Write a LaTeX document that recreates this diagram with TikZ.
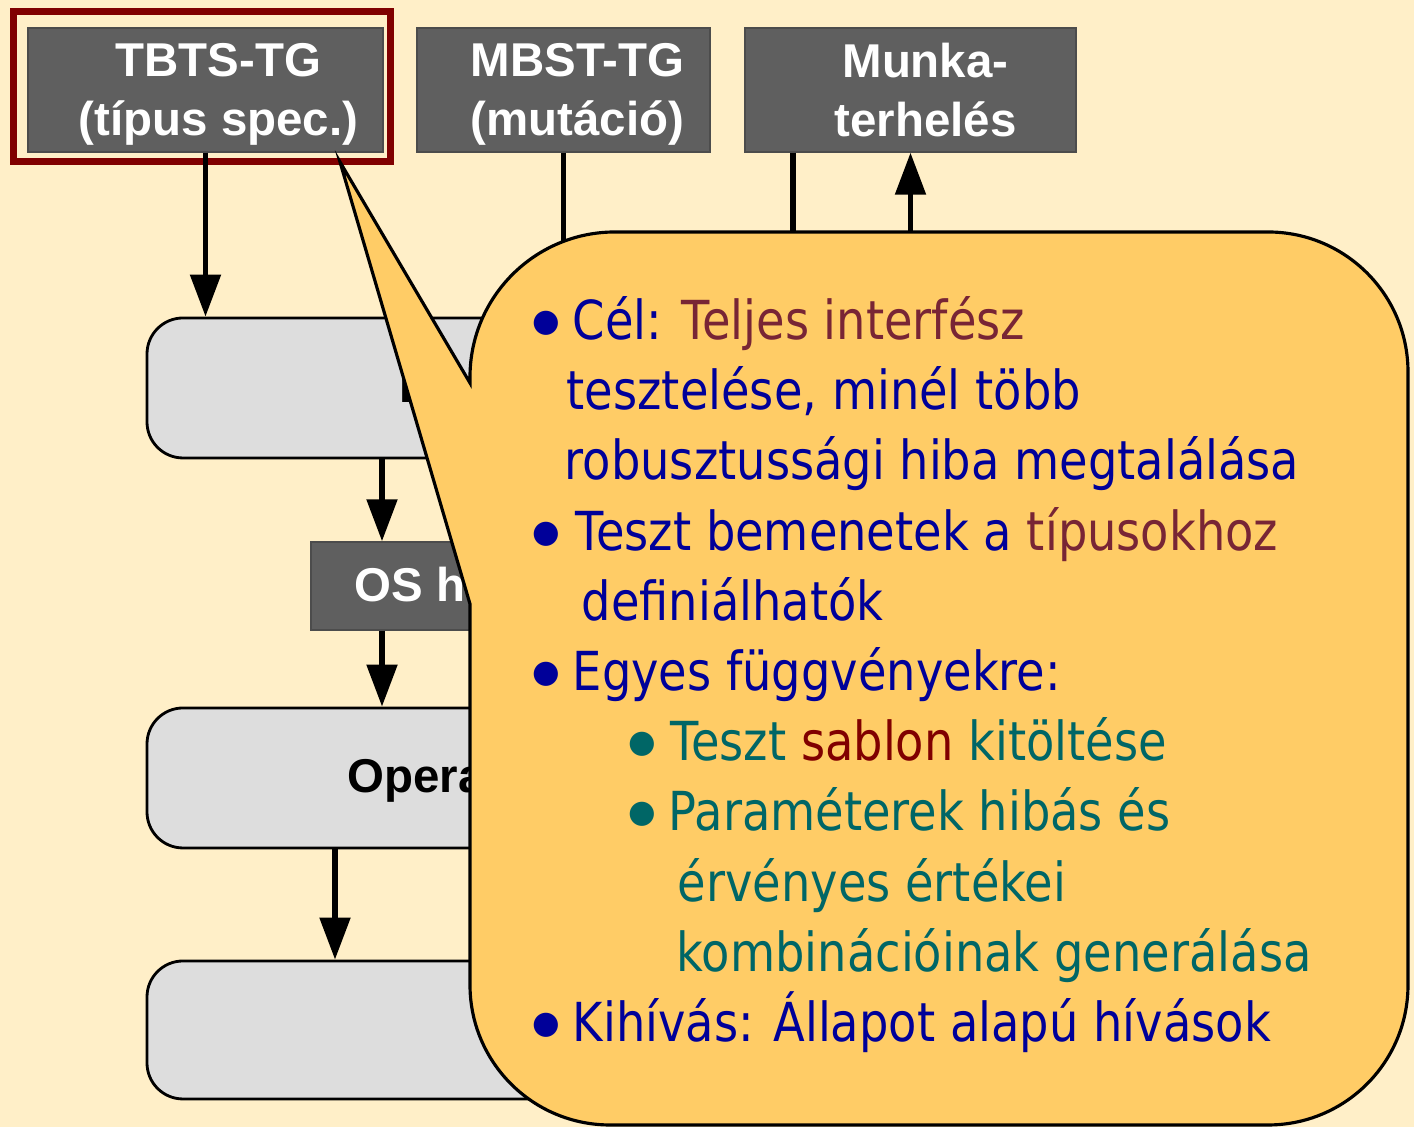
\documentclass[tikz,border=0pt]{standalone}
\usepackage{fontspec}
\setmainfont{Liberation Sans}
\newfontfamily\bubblefont{DejaVu Sans}[FakeStretch=0.862]
\newfontfamily\dotfont{DejaVu Sans}
\usetikzlibrary{arrows.meta}

\definecolor{cream}{HTML}{FFEFC8}
\definecolor{genfill}{HTML}{5F5F5F}
\definecolor{layerfill}{HTML}{DDDDDD}
\definecolor{framered}{HTML}{800000}
\definecolor{bubblefill}{HTML}{FFCC66}
\definecolor{navytext}{HTML}{000099}
\definecolor{rust}{HTML}{782535}
\definecolor{tealtext}{HTML}{006666}
\definecolor{sablonred}{HTML}{800000}

\begin{document}
\begin{tikzpicture}[
    genbox/.style={rectangle,draw=black!70,fill=genfill,inner sep=0pt,minimum height=1.24cm},
    layerbox/.style={rectangle,draw,line width=0.8pt,rounded corners=0.36cm,fill=layerfill,inner sep=0pt,minimum width=4.7cm,minimum height=1.4cm},
    genlabel/.style={text=white,align=center,font=\bfseries\fontsize{13.5pt}{16.6pt}\selectfont},
    layerlabel/.style={anchor=base west,inner sep=0pt,font=\bfseries\fontsize{13.5pt}{16.6pt}\selectfont},
    flow/.style={line width=1.5pt,-{Triangle[length=4.2mm,width=3mm]}},
    wire/.style={line width=1.5pt},
    bubble/.style={draw,line width=0.9pt,fill=bubblefill},
    bubbletext/.style={anchor=base west,inner sep=0pt,font=\bubblefont\fontsize{15.3pt}{20pt}\selectfont},
    bullet/.style={anchor=base,inner sep=0pt,yshift=0.8mm,font=\dotfont\fontsize{9pt}{11pt}\selectfont}
  ]

  \useasboundingbox (0,0) rectangle (14.14,11.27);
  \fill[cream] (0,0) rectangle (14.14,11.27);

  % generators on top
  \node (tbtsframe) [draw=framered,line width=0.7mm,inner sep=0pt,minimum width=3.77cm,minimum height=1.5cm] at (2.02,10.405) {};
  \node (tbts) [genbox,minimum width=3.55cm] at (2.055,10.37) {};
  \node (mbst) [genbox,minimum width=2.93cm] at (5.635,10.37) {};
  \node (munka) [genbox,minimum width=3.31cm] at (9.105,10.37) {};

  \node (tbtslabel) [genlabel] at ([xshift=1.3mm,yshift=-0.43mm]tbts.center) {TBTS-TG\\(típus spec.)};
  \node (mbstlabel) [genlabel] at ([xshift=1.4mm,yshift=-0.43mm]mbst.center) {MBST-TG\\(mutáció)};
  \node (munkalabel) [genlabel] at ([xshift=1.5mm]munka.center) {Munka-\\terhelés};

  % layers
  \node (layer1) [layerbox] at (3.82,7.39) {};
  \node (oshook) [genbox,minimum width=3cm,minimum height=0.88cm] at (4.61,5.41) {};
  \node (layer2) [layerbox] at (3.82,3.49) {};
  \node (layer3) [layerbox,minimum height=1.38cm] at (3.82,0.97) {};

  \node (layer1label) [layerlabel] at (3.99,7.24) {I};
  \node (oslabel) [layerlabel,text=white] at (3.54,5.25) {OS h};
  \node (layer2label) [layerlabel] at (3.47,3.34) {Opera};

  \draw[flow] (tbts.south) -- (tbts.south |- layer1.north);
  \draw[flow] (layer1.south) -- (layer1.south |- oshook.north);
  \draw[flow] (layer1.south |- oshook.south) -- (layer2.north);
  \draw[flow] ([xshift=-4.7mm]layer2.south) -- ([xshift=-4.7mm]layer3.north);

  \draw[wire] (mbst.south) -- ++(0,-1.2);
  \draw[wire] ([xshift=-11.75mm]munka.south) -- ++(0,-0.8);
  \path (munka.south) ++(0,-0.8) coordinate (loadin);
  \draw[flow] (loadin) -- (munka.south);

  % callout
  \draw[bubble] (3.40,9.65) -- (4.70,7.44) -- (4.70,7.50)
    arc[start angle=180,end angle=90,radius=1.45] -- (12.68,8.95)
    arc[start angle=90,end angle=0,radius=1.4] -- (14.08,1.42)
    arc[start angle=0,end angle=-90,radius=1.4] -- (6.10,0.02)
    arc[start angle=270,end angle=180,radius=1.4] -- (4.70,5.23) -- cycle;

  \foreach \y [count=\i] in {7.87,5.76,4.36,0.85}
    \node (dot\i) [bullet,text=navytext] at (5.46,\y) {●};
  \foreach \y [count=\i] in {3.66,2.96}
    \node (subdot\i) [bullet,text=tealtext] at (6.42,\y) {●};

  \node (goal) [bubbletext,text=navytext] at (5.72,7.87) {Cél: \textcolor{rust}{Teljes interfész}};
  \node (goal2) [bubbletext,text=navytext] at (5.66,7.17) {tesztelése, minél több};
  \node (goal3) [bubbletext,text=navytext] at (5.64,6.47) {robusztussági hiba megtalálása};
  \node (inputs) [bubbletext,text=navytext] at (5.75,5.76) {Teszt bemenetek a \textcolor{rust}{típusokhoz}};
  \node (inputs2) [bubbletext,text=navytext] at (5.81,5.06) {definiálhatók};
  \node (funcs) [bubbletext,text=navytext] at (5.72,4.36) {Egyes függvényekre:};
  \node (template) [bubbletext,text=tealtext] at (6.70,3.66) {Teszt \textcolor{sablonred}{sablon} kitöltése};
  \node (params) [bubbletext,text=tealtext] at (6.68,2.96) {Paraméterek hibás és};
  \node (params2) [bubbletext,text=tealtext] at (6.77,2.25) {érvényes értékei};
  \node (params3) [bubbletext,text=tealtext] at (6.76,1.55) {kombinációinak generálása};
  \node (challenge) [bubbletext,text=navytext] at (5.72,0.85) {Kihívás: Állapot alapú hívások};

\end{tikzpicture}
\end{document}
